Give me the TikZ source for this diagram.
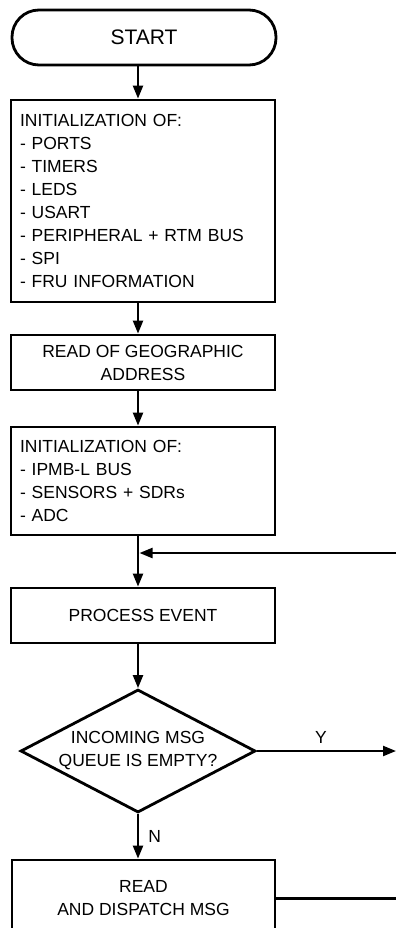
\documentclass[tikz,border=0pt]{standalone}
\usepackage{fontspec}
\setmainfont{Liberation Sans}
\usetikzlibrary{arrows.meta,shapes.geometric}
\begin{document}
\begin{tikzpicture}[x=1pt,y=-1pt,
  box/.style={draw, line width=2.8pt, minimum width=264pt, inner xsep=9pt, inner ysep=0pt, font=\fontsize{17.5}{23}\selectfont},
  listbox/.style={box, text width=246pt, align=left},
  cbox/.style={box, align=center},
  terminal/.style={box, rounded corners=27pt, font=\fontsize{21}{25}\selectfont},
  decision/.style={draw, diamond, line width=2.8pt, minimum width=235pt, minimum height=123pt, inner sep=0pt, aspect=1.91},
  flow/.style={line width=2.2pt, -{Triangle[length=13pt,width=10pt]}},
  plain/.style={line width=2.2pt},
  lbl/.style={font=\fontsize{17.5}{23}\selectfont}
]
\useasboundingbox (0,0) rectangle (396,928);
\fill[white] (0,0) rectangle (396,928);
\clip (0,0) rectangle (396,928);

\node[terminal, minimum height=55pt] (start) at (144,37.5) {START};
\node[listbox, minimum height=202pt] (b1) at (143,201) {INITIALIZATION OF:\\- PORTS\\- TIMERS\\- LEDS\\- USART\\- PERIPHERAL + RTM BUS\\- SPI\\- FRU INFORMATION};
\node[cbox, minimum height=55pt] (b2) at (143,362.5) {READ OF GEOGRAPHIC\\ADDRESS};
\node[listbox, minimum height=108pt] (b3) at (143,481) {INITIALIZATION OF:\\- IPMB-L BUS\\- SENSORS + SDRs\\- ADC};
\node[cbox, minimum height=55pt] (proc) at (143,615.5) {PROCESS EVENT};
\node[decision] (dec) at (138,751) {};
\node[lbl, align=center] (dect) at (dec.center) {INCOMING MSG\\QUEUE IS EMPTY?};
\node[cbox, minimum height=77pt, minimum width=263pt] (b6) at (143.5,898.5) {READ\\AND DISPATCH MSG};

\coordinate (axis) at (138,0);
\coordinate (join) at (139.5,553);
\coordinate (loopin) at (396,553);
\coordinate (yend) at (396,751);

\draw[flow] (start.south -| axis) -- (b1.north -| axis);
\draw[flow] (b1.south -| axis) -- (b2.north -| axis);
\draw[flow] (b2.south -| axis) -- (b3.north -| axis);
\draw[flow] (b3.south -| axis) -- (proc.north -| axis);
\draw[flow] (loopin) -- (join);
\draw[flow] (proc.south -| axis) -- (dec.north);
\draw[flow] (dec.east) -- node[lbl, above, pos=0.46, yshift=3pt] {Y} (yend);
\draw[flow] (dec.south) -- node[lbl, right, xshift=6pt] {N} (b6.north -| axis);
\draw[plain] (b6.east) -- (b6.east -| yend);
\end{tikzpicture}
\end{document}
